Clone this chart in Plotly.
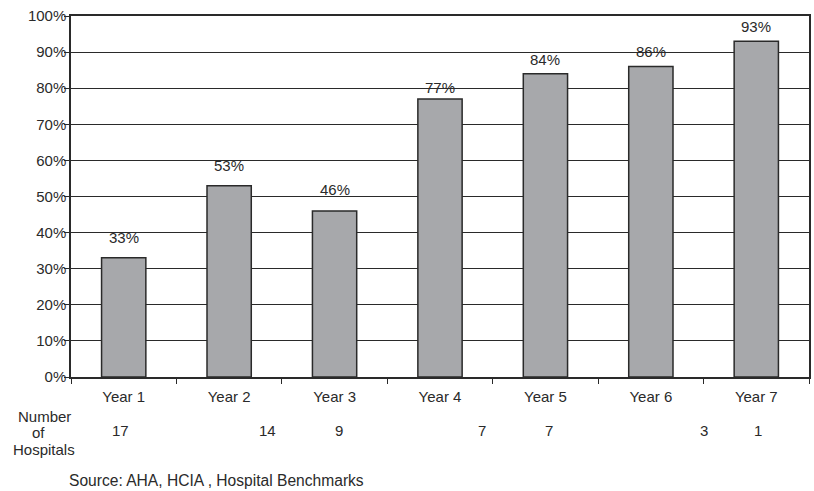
import plotly.graph_objects as go

categories = ["Year 1", "Year 2", "Year 3", "Year 4", "Year 5", "Year 6", "Year 7"]
percent_values = [33, 53, 46, 77, 84, 86, 93]
hospital_counts = [17, 14, 9, 7, 7, 3, 1]
y_tick_values = [0, 10, 20, 30, 40, 50, 60, 70, 80, 90, 100]
y_tick_labels = [f"{v}%" for v in y_tick_values]
row_label_lines = ["Number", "of", "Hospitals"]
source_text = "Source: AHA, HCIA , Hospital Benchmarks"

# layout-only tweaks (offsets in category units / pixels)
count_offsets = [-0.03, 0.36, 0.04, 0.40, 0.03, 0.50, 0.02]
label_shifts = [20, 20, 21, 12, 14, 15, 15]
row_label_px = [(44, 416), (38, 432), (44, 449)]

FONT = "Liberation Sans, Arial, sans-serif"
TXT = "#2a2a2a"
FS = 15

W, H = 814, 491
plot_left, plot_right, plot_top, plot_bottom = 71, 811, 16, 377
pw = plot_right - plot_left
ph = plot_bottom - plot_top


def px_x(x):
    return (x - plot_left) / pw


def px_y(y):
    return (plot_bottom - y) / ph


fig = go.Figure()
fig.add_trace(go.Bar(
    x=list(range(len(categories))),
    y=percent_values,
    width=0.42,
    marker=dict(color="#a7a8ab", line=dict(color="#2a2a2a", width=1.5)),
    hoverinfo="skip",
))

annotations = []
for i, (v, s) in enumerate(zip(percent_values, label_shifts)):
    annotations.append(dict(x=i, y=v, xref="x", yref="y", text=f"{v}%",
                            showarrow=False, yanchor="middle", yshift=s,
                            font=dict(family=FONT, size=FS, color=TXT)))
for i, (c, off) in enumerate(zip(hospital_counts, count_offsets)):
    annotations.append(dict(x=i + off, y=px_y(430), xref="x", yref="paper", text=str(c),
                            showarrow=False, yanchor="middle",
                            font=dict(family=FONT, size=FS, color=TXT)))
for line, (lx, ly) in zip(row_label_lines, row_label_px):
    annotations.append(dict(x=px_x(lx), y=px_y(ly), xref="paper", yref="paper", text=line,
                            showarrow=False, xanchor="center", yanchor="middle",
                            font=dict(family=FONT, size=FS, color=TXT)))
annotations.append(dict(x=px_x(67), y=px_y(481), xref="paper", yref="paper", text=source_text,
                        showarrow=False, xanchor="left", yanchor="middle",
                        font=dict(family=FONT, size=15.6, color=TXT)))

fig.update_layout(
    width=W, height=H,
    margin=dict(l=plot_left, r=W - plot_right, t=plot_top, b=H - plot_bottom),
    paper_bgcolor="white", plot_bgcolor="white",
    showlegend=False,
    font=dict(family=FONT, size=FS, color=TXT),
    annotations=annotations,
    xaxis=dict(
        range=[-0.5, len(categories) - 0.5],
        tickmode="array",
        tickvals=list(range(len(categories))),
        ticktext=categories,
        ticks="", showgrid=False,
        showline=True, linecolor="#2a2a2a", linewidth=1.5, mirror=True,
        tickfont=dict(family=FONT, size=FS, color=TXT),
        ticklabelstandoff=5,
        zeroline=False,
    ),
    yaxis=dict(
        range=[0, 100],
        tickmode="array",
        tickvals=y_tick_values,
        ticktext=y_tick_labels,
        ticks="outside", ticklen=5, tickcolor="#2a2a2a", tickwidth=1,
        showgrid=True, gridcolor="#2a2a2a", gridwidth=1,
        showline=True, linecolor="#2a2a2a", linewidth=1.5, mirror=True,
        tickfont=dict(family=FONT, size=FS, color=TXT),
        ticklabelstandoff=-5,
        zeroline=False,
    ),
)

fig.update_xaxes(minor=dict(tickmode="array", tickvals=[i - 0.5 for i in range(len(categories) + 1)],
                            ticks="outside", ticklen=5, tickcolor="#2a2a2a", showgrid=False))

fig.write_html("out.html")
